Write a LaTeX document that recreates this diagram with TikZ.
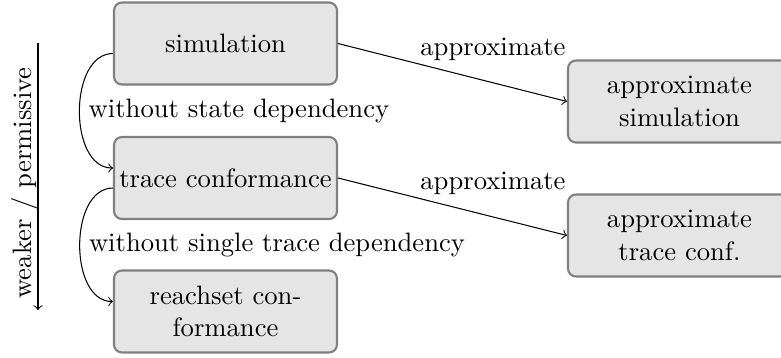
\documentclass[tikz,border=0pt]{standalone}
\usetikzlibrary{calc}
\tikzset{
  box/.style={draw=black!50, fill=black!10, line width=0.8pt, rounded corners=3pt,
    minimum width=85.4pt, minimum height=31.4pt, inner sep=2pt, align=center},
  conn/.style={->},
  lbl/.style={inner sep=0pt}
}
\begin{document}
\begin{tikzpicture}[x=0.3831pt,y=-0.3831pt,font=\fontsize{10.2pt}{12.4pt}\selectfont]
\useasboundingbox (0,0) rectangle (781,358);
\clip (0,0) rectangle (781,358);
\node[box] (sim) at (225.5,43.5) {simulation};
\node[box] (trace) at (225.5,178) {trace conformance};
\node[box] (reach) at (225.5,311.5) {reachset con-\\formance};
\node[box] (asim) at (679.5,101.5) {approximate\\simulation};
\node[box] (atr) at (679.5,235.5) {approximate\\trace conf.};
\draw[conn] (sim.east) -- (asim.west);
\draw[conn] (trace.east) -- (atr.west);
\node[lbl, anchor=base east] (l1) at ($(asim.north west)+(-1,-4)$) {approximate};
\node[lbl, anchor=base east] (l2) at ($(atr.north west)+(-1,-4)$) {approximate};
\draw[conn] ($(sim.west)+(0,10)$) to[out=180,in=180] node[right] (l3) {without state dependency} ($(trace.west)+(0,-10)$);
\draw[conn] ($(trace.west)+(0,10)$) to[out=180,in=180] node[right] (l4) {without single trace dependency} ($(reach.west)+(0,-10)$);
\coordinate (ax1) at (38,43);
\coordinate (ax2) at (38,310);
\draw[conn] (ax1) -- (ax2);
\node[rotate=90] (ax) at (25,183) {weaker / permissive};
\end{tikzpicture}
\end{document}
